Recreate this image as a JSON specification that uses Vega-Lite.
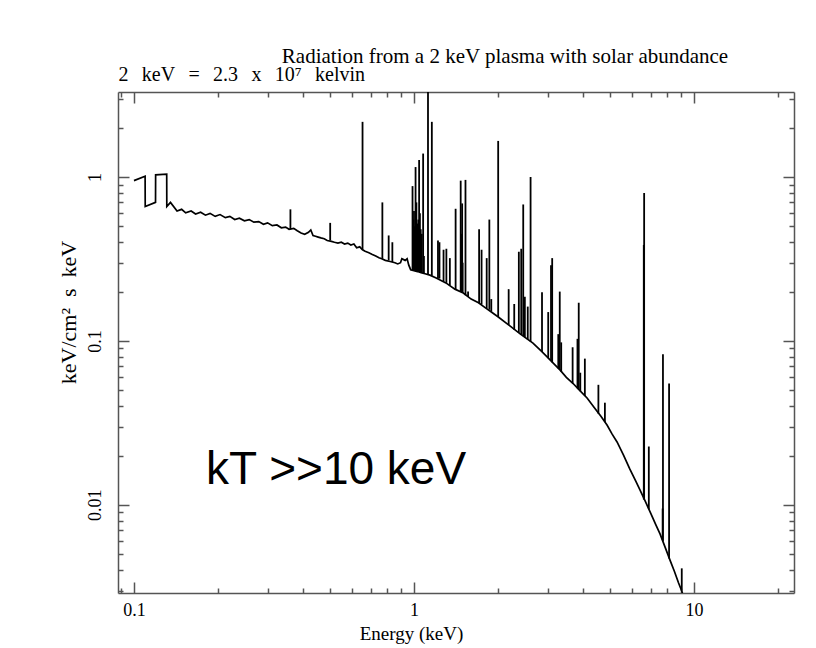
{
  "$schema": "https://vega.github.io/schema/vega-lite/v6.json",
  "width": 676,
  "height": 501,
  "autosize": {"type": "none"},
  "padding": {"left": 118, "top": 92, "right": 22, "bottom": 55},
  "background": "white",
  "config": {"view": {"stroke": null}, "font": "Liberation Serif"},
  "title": {
    "text": "Radiation from a 2 keV plasma with solar abundance",
    "font": "Liberation Serif", "fontSize": 21, "fontWeight": "normal", "color": "black",
    "anchor": "middle", "frame": "group", "offset": 30, "dx": 49, "dy": 50, "baseline": "alphabetic"
  },
  "datasets": {
    "continuum": [
      {"E":0.100,"F":0.95},{"E":0.1096,"F":1.01},{"E":0.1097,"F":0.66},{"E":0.1194,"F":0.70},{"E":0.1195,"F":1.03},{"E":0.1309,"F":1.04},{"E":0.131,"F":0.66},{"E":0.135,"F":0.70},
      {"E":0.1425,"F":0.62},{"E":0.148,"F":0.635},{"E":0.153,"F":0.605},{"E":0.160,"F":0.62},{"E":0.166,"F":0.595},{"E":0.173,"F":0.61},{"E":0.180,"F":0.585},{"E":0.187,"F":0.60},{"E":0.195,"F":0.575},{"E":0.203,"F":0.59},
      {"E":0.212,"F":0.565},{"E":0.220,"F":0.575},{"E":0.229,"F":0.55},{"E":0.238,"F":0.56},{"E":0.248,"F":0.54},{"E":0.258,"F":0.55},{"E":0.268,"F":0.53},{"E":0.279,"F":0.535},{"E":0.290,"F":0.515},{"E":0.300,"F":0.525},
      {"E":0.312,"F":0.505},{"E":0.324,"F":0.51},{"E":0.336,"F":0.49},{"E":0.348,"F":0.495},{"E":0.358,"F":0.48},{"E":0.372,"F":0.486},{"E":0.383,"F":0.47},{"E":0.395,"F":0.455},{"E":0.407,"F":0.447},
      {"E":0.420,"F":0.46},{"E":0.428,"F":0.475},{"E":0.436,"F":0.44},{"E":0.445,"F":0.435},{"E":0.455,"F":0.43},{"E":0.465,"F":0.425},{"E":0.478,"F":0.42},{"E":0.490,"F":0.41},{"E":0.507,"F":0.405},
      {"E":0.520,"F":0.40},{"E":0.535,"F":0.395},{"E":0.550,"F":0.40},{"E":0.565,"F":0.39},{"E":0.580,"F":0.395},{"E":0.595,"F":0.385},{"E":0.610,"F":0.39},{"E":0.624,"F":0.37},{"E":0.640,"F":0.375},{"E":0.655,"F":0.36},
      {"E":0.669,"F":0.352},{"E":0.690,"F":0.345},{"E":0.710,"F":0.337},{"E":0.730,"F":0.33},{"E":0.750,"F":0.322},{"E":0.767,"F":0.317},{"E":0.790,"F":0.31},{"E":0.822,"F":0.305},{"E":0.855,"F":0.30},{"E":0.875,"F":0.295},
      {"E":0.895,"F":0.30},{"E":0.905,"F":0.317},{"E":0.930,"F":0.31},{"E":0.945,"F":0.317},{"E":0.958,"F":0.29},{"E":0.973,"F":0.272},{"E":1.000,"F":0.268},{"E":1.030,"F":0.265},{"E":1.060,"F":0.261},
      {"E":1.095,"F":0.257},{"E":1.140,"F":0.252},{"E":1.200,"F":0.242},{"E":1.300,"F":0.226},{"E":1.400,"F":0.207},{"E":1.500,"F":0.196},
      {"E":1.600,"F":0.180},{"E":1.700,"F":0.171},{"E":1.800,"F":0.159},{"E":1.900,"F":0.149},{"E":2.000,"F":0.140},{"E":2.200,"F":0.1235},{"E":2.400,"F":0.110},{"E":2.660,"F":0.097},{"E":2.850,"F":0.0866},{"E":3.000,"F":0.0793},
      {"E":3.200,"F":0.0710},{"E":3.320,"F":0.0666},{"E":3.500,"F":0.0600},{"E":3.700,"F":0.0550},{"E":3.920,"F":0.0496},{"E":4.150,"F":0.0449},{"E":4.400,"F":0.0393},{"E":4.650,"F":0.0347},{"E":4.890,"F":0.0307},{"E":5.100,"F":0.0270},
      {"E":5.310,"F":0.0242},{"E":5.600,"F":0.0201},{"E":5.900,"F":0.0165},{"E":6.200,"F":0.0139},{"E":6.410,"F":0.01235},{"E":6.700,"F":0.0105},{"E":7.000,"F":0.0089},{"E":7.300,"F":0.00757},{"E":7.560,"F":0.00665},{"E":7.900,"F":0.00547},
      {"E":8.200,"F":0.00462},{"E":8.500,"F":0.00395},{"E":8.800,"F":0.00335},{"E":9.060,"F":0.00295},{"E":9.500,"F":0.0022},{"E":10.0,"F":0.0016}
    ],
    "lines": [
      {"E":0.362,"base":0.48,"peak":0.635},{"E":0.502,"base":0.41,"peak":0.525},{"E":0.655,"base":0.36,"peak":2.17},{"E":0.771,"base":0.317,"peak":0.70},{"E":0.812,"base":0.31,"peak":0.44},
      {"E":0.837,"base":0.303,"peak":0.40},{"E":0.988,"base":0.27,"peak":0.88},{"E":0.995,"base":0.27,"peak":0.55},{"E":1.000,"base":0.268,"peak":0.62},{"E":1.005,"base":0.268,"peak":0.50},
      {"E":1.013,"base":0.267,"peak":1.15},{"E":1.020,"base":0.266,"peak":0.70},{"E":1.027,"base":0.266,"peak":0.52},{"E":1.036,"base":0.265,"peak":0.55},{"E":1.043,"base":0.264,"peak":1.27},
      {"E":1.050,"base":0.263,"peak":0.60},{"E":1.057,"base":0.262,"peak":0.48},{"E":1.066,"base":0.261,"peak":0.45},{"E":1.078,"base":0.26,"peak":1.39},{"E":1.085,"base":0.259,"peak":0.33},
      {"E":1.122,"base":0.255,"peak":4.0},{"E":1.158,"base":0.25,"peak":2.17},{"E":1.218,"base":0.24,"peak":0.41},{"E":1.233,"base":0.24,"peak":0.40},{"E":1.275,"base":0.23,"peak":0.36},
      {"E":1.305,"base":0.226,"peak":0.365},{"E":1.343,"base":0.218,"peak":0.32},{"E":1.408,"base":0.207,"peak":0.64},{"E":1.468,"base":0.20,"peak":0.95},{"E":1.473,"base":0.199,"peak":0.40},
      {"E":1.480,"base":0.198,"peak":0.45},{"E":1.486,"base":0.197,"peak":0.69},{"E":1.492,"base":0.197,"peak":0.30},
      {"E":1.527,"base":0.19,"peak":0.96},{"E":1.560,"base":0.186,"peak":0.20},{"E":1.708,"base":0.17,"peak":0.48},{"E":1.743,"base":0.167,"peak":0.36},{"E":1.818,"base":0.158,"peak":0.32},
      {"E":1.858,"base":0.155,"peak":0.55},{"E":1.888,"base":0.151,"peak":0.18},{"E":1.998,"base":0.14,"peak":1.66},{"E":2.178,"base":0.125,"peak":0.207},{"E":2.280,"base":0.117,"peak":0.168},
      {"E":2.368,"base":0.112,"peak":0.35},{"E":2.415,"base":0.109,"peak":0.365},{"E":2.455,"base":0.107,"peak":0.68},{"E":2.488,"base":0.105,"peak":0.186},{"E":2.548,"base":0.102,"peak":0.162},
      {"E":2.608,"base":0.099,"peak":1.0},{"E":2.865,"base":0.0855,"peak":0.198},{"E":3.015,"base":0.0785,"peak":0.15},{"E":3.085,"base":0.0755,"peak":0.29},{"E":3.115,"base":0.074,"peak":0.32},
      {"E":3.275,"base":0.068,"peak":0.11},{"E":3.315,"base":0.0667,"peak":0.20},{"E":3.355,"base":0.065,"peak":0.098},{"E":3.685,"base":0.0553,"peak":0.0915},{"E":3.835,"base":0.0514,"peak":0.103},
      {"E":3.875,"base":0.0504,"peak":0.171},{"E":3.925,"base":0.0494,"peak":0.064},{"E":4.075,"base":0.0461,"peak":0.078},{"E":4.555,"base":0.036,"peak":0.054},{"E":4.805,"base":0.032,"peak":0.042},
      {"E":6.615,"base":0.0108,"peak":0.385},{"E":6.635,"base":0.0108,"peak":0.80},{"E":6.895,"base":0.0094,"peak":0.0227},{"E":7.725,"base":0.0061,"peak":0.0095},{"E":7.745,"base":0.0060,"peak":0.083},
      {"E":8.145,"base":0.0047,"peak":0.055},{"E":9.040,"base":0.003,"peak":0.0041}
    ],
    "note": [{"label": "kT >>10 keV", "E": 0.181, "F": 0.01343}]
  },
  "data": {"name": "continuum"},
  "resolve": {"axis": {"x": "independent", "y": "independent"}},
  "layer": [
    {
      "mark": {"type": "line", "color": "black", "strokeWidth": 1.7, "clip": true},
      "encoding": {
        "x": {"field": "E", "type": "quantitative",
          "scale": {"type": "log", "domain": [0.0877, 22.75], "nice": false},
          "axis": {"orient": "bottom", "values": [0.1, 1, 10], "format": "~g", "grid": false,
            "tickSize": -11, "tickColor": "#555", "tickWidth": 1.5, "domainColor": "#555", "domainWidth": 1.5,
            "labelFont": "Liberation Serif", "labelFontSize": 18, "labelColor": "black", "labelPadding": 19,
            "labelFlush": false, "labelOverlap": false,
            "title": "Energy (keV)", "titleFont": "Liberation Serif", "titleFontSize": 19, "titleFontWeight": "normal",
            "titleColor": "black", "titleX": 293, "titleY": 46, "titleBaseline": "alphabetic", "titleAlign": "center"}},
        "y": {"field": "F", "type": "quantitative",
          "scale": {"type": "log", "domain": [0.0029, 3.3], "nice": false},
          "axis": {"orient": "left", "values": [0.01, 0.1, 1], "format": "~g", "grid": false,
            "tickSize": -11, "tickColor": "#555", "tickWidth": 1.5, "domainColor": "#555", "domainWidth": 1.5,
            "labelFont": "Liberation Serif", "labelFontSize": 18, "labelColor": "black", "labelPadding": 25,
            "labelAngle": -90, "labelAlign": "center", "labelBaseline": "bottom",
            "labelFlush": false, "labelOverlap": false,
            "title": "keV/cm²\u2002s\u2002keV", "titleFont": "Liberation Serif", "titleFontSize": 22, "titleFontWeight": "normal",
            "titleColor": "black", "titleX": -50, "titleY": 220, "titleAngle": -90, "titleBaseline": "middle", "titleAlign": "center"}}
      }
    },
    {
      "data": {"name": "lines"},
      "mark": {"type": "rule", "color": "black", "strokeWidth": 1.8, "clip": true},
      "encoding": {
        "x": {"field": "E", "type": "quantitative",
          "axis": {"orient": "bottom", "values": [0.09, 0.2, 0.3, 0.4, 0.5, 0.6, 0.7, 0.8, 0.9, 2, 3, 4, 5, 6, 7, 8, 9, 20],
            "grid": false, "domain": false, "labels": false, "title": null, "tickSize": -5, "tickColor": "#555", "tickWidth": 1.5}},
        "y": {"field": "base", "type": "quantitative",
          "axis": {"orient": "left", "values": [0.003, 0.004, 0.005, 0.006, 0.007, 0.008, 0.009, 0.02, 0.03, 0.04, 0.05, 0.06, 0.07, 0.08, 0.09, 0.2, 0.3, 0.4, 0.5, 0.6, 0.7, 0.8, 0.9, 2, 3],
            "grid": false, "domain": false, "labels": false, "title": null, "tickSize": -5, "tickColor": "#555", "tickWidth": 1.5}},
        "y2": {"field": "peak"}
      }
    },
    {
      "mark": {"type": "line", "strokeOpacity": 0},
      "encoding": {
        "x": {"field": "E", "type": "quantitative",
          "axis": {"orient": "top", "values": [0.1, 1, 10], "grid": false, "labels": false,
            "tickSize": -11, "tickColor": "#555", "tickWidth": 1.5, "domainColor": "#555", "domainWidth": 1.5,
            "title": "2\u2002\u2006keV\u2002\u2006=\u2002\u20062.3\u2002\u2006x\u2002\u200610⁷\u2002\u2006kelvin", "titleFont": "Liberation Serif", "titleFontSize": 20, "titleFontWeight": "normal",
            "titleColor": "black", "titleX": 0, "titleY": -12, "titleAlign": "left", "titleBaseline": "alphabetic"}},
        "y": {"field": "F", "type": "quantitative",
          "axis": {"orient": "right", "values": [0.01, 0.1, 1], "grid": false, "labels": false, "title": null,
            "tickSize": -11, "tickColor": "#555", "tickWidth": 1.5, "domainColor": "#555", "domainWidth": 1.5}}
      }
    },
    {
      "mark": {"type": "line", "strokeOpacity": 0},
      "encoding": {
        "x": {"field": "E", "type": "quantitative",
          "axis": {"orient": "top", "values": [0.09, 0.2, 0.3, 0.4, 0.5, 0.6, 0.7, 0.8, 0.9, 2, 3, 4, 5, 6, 7, 8, 9, 20],
            "grid": false, "domain": false, "labels": false, "title": null, "tickSize": -5, "tickColor": "#555", "tickWidth": 1.5}},
        "y": {"field": "F", "type": "quantitative",
          "axis": {"orient": "right", "values": [0.003, 0.004, 0.005, 0.006, 0.007, 0.008, 0.009, 0.02, 0.03, 0.04, 0.05, 0.06, 0.07, 0.08, 0.09, 0.2, 0.3, 0.4, 0.5, 0.6, 0.7, 0.8, 0.9, 2, 3],
            "grid": false, "domain": false, "labels": false, "title": null, "tickSize": -5, "tickColor": "#555", "tickWidth": 1.5}}
      }
    },
    {
      "data": {"name": "note"},
      "mark": {"type": "text", "font": "Liberation Sans", "fontSize": 46, "align": "left", "baseline": "alphabetic", "color": "black"},
      "encoding": {
        "x": {"field": "E", "type": "quantitative", "axis": null},
        "y": {"field": "F", "type": "quantitative", "axis": null},
        "text": {"field": "label"}
      }
    }
  ]
}
